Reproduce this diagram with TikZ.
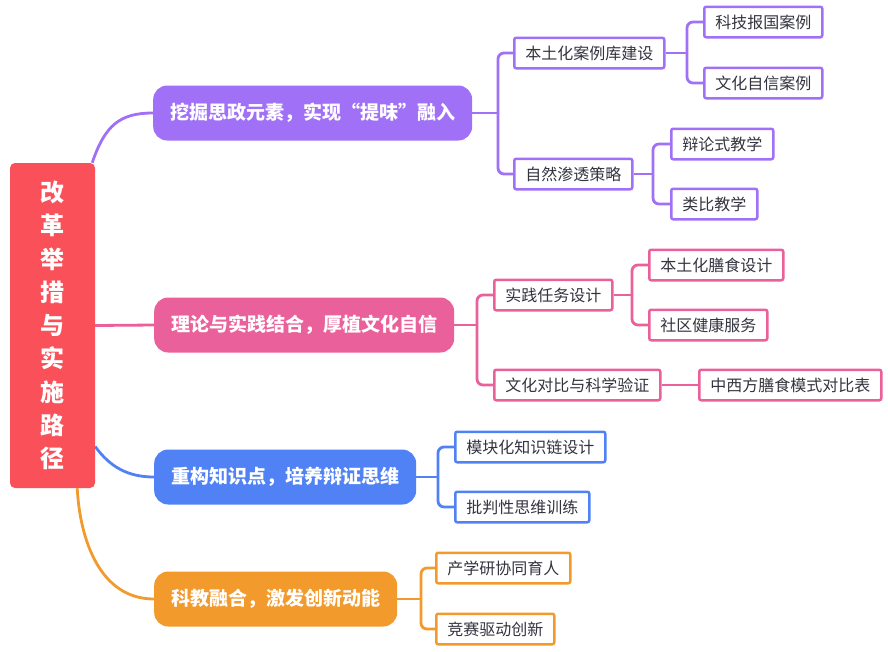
\documentclass[tikz,border=0pt]{standalone}
\usepackage{fontspec}
\setmainfont{Noto Sans CJK SC}
\usetikzlibrary{calc}
\definecolor{rootred}{HTML}{F9505A}
\definecolor{cpurple}{HTML}{A070F6}
\definecolor{cpink}{HTML}{EA609A}
\definecolor{cblue}{HTML}{5082F6}
\definecolor{corange}{HTML}{F29A2C}
\definecolor{textgray}{HTML}{343440}
\begin{document}
\begin{tikzpicture}[x=1pt,y=-1pt,
  leaf/.style={draw=#1, line width=2.5pt, fill=white, rounded corners=2pt, inner xsep=11pt, inner ysep=0pt,
    minimum height=30.5pt, font=\fontsize{16}{16}\selectfont, text=textgray, anchor=west},
  mainbox/.style={fill=#1, rounded corners=14pt, inner xsep=17pt, inner ysep=0pt, minimum height=55pt,
    text=white, font=\bfseries\fontsize{19}{19}\selectfont, anchor=west},
  link/.style={draw=#1, line width=2.8pt},
  fork/.style={draw=#1, line width=2.8pt, rounded corners=6pt}
]
\useasboundingbox (0,0) rectangle (888,651);

% root
\node[fill=rootred, rounded corners=5pt, minimum width=85pt, minimum height=325pt, inner sep=0pt,
  text=white, align=center, font=\bfseries\fontsize{24}{33.3}\selectfont] (root) at (52.5,325.5)
  {改\\革\\举\\措\\与\\实\\施\\路\\径};

% level 1
\node[mainbox=cpurple] (n1) at (153,113) {挖掘思政元素，实现“提味”融入};
\node[mainbox=cpink] (n2) at (154,325) {理论与实践结合，厚植文化自信};
\node[mainbox=cblue] (n3) at (154,477) {重构知识点，培养辩证思维};
\node[mainbox=corange] (n4) at (154,599) {科教融合，激发创新动能};

% level 2/3 purple
\node[leaf=cpurple] (a1) at (513,53) {本土化案例库建设};
\node[leaf=cpurple] (a2) at (513,174) {自然渗透策略};
\node[leaf=cpurple] (a11) at (703,22) {科技报国案例};
\node[leaf=cpurple] (a12) at (703,83) {文化自信案例};
\node[leaf=cpurple] (a21) at (670,144) {辩论式教学};
\node[leaf=cpurple] (a22) at (670,204) {类比教学};

% pink
\node[leaf=cpink] (b1) at (493,295) {实践任务设计};
\node[leaf=cpink] (b2) at (493,385) {文化对比与科学验证};
\node[leaf=cpink] (b11) at (648,265) {本土化膳食设计};
\node[leaf=cpink] (b12) at (648,325) {社区健康服务};
\node[leaf=cpink] (b21) at (698,385) {中西方膳食模式对比表};

% blue
\node[leaf=cblue] (c1) at (454,447) {模块化知识链设计};
\node[leaf=cblue] (c2) at (454,507) {批判性思维训练};

% orange
\node[leaf=corange] (d1) at (435,568) {产学研协同育人};
\node[leaf=corange] (d2) at (435,629) {竞赛驱动创新};

% root connectors
\draw[link=cpurple] ([xshift=-3pt]root.north east) .. controls (105,125) and (120,113) .. (n1.west);
\draw[link=cpink] (root.east) -- (n2.west);
\draw[link=cblue] ([yshift=-121pt]root.east) .. controls (110,467) and (128,477) .. (n3.west);
\draw[link=corange] ([xshift=-18pt]root.south east) .. controls (80,540) and (100,599) .. (n4.west);

% branch points
\coordinate (n1b) at (n1.east -| 498,0);
\coordinate (a1b) at (a1.east -| 687,0);
\coordinate (a2b) at (a2.east -| 653,0);
\coordinate (n2b) at (n2.east -| 477,0);
\coordinate (b1b) at (b1.east -| 632,0);
\coordinate (n3b) at (n3.east -| 438,0);
\coordinate (n4b) at (n4.east -| 421,0);

\draw[link=cpurple] (n1.east) -- (n1b);
\draw[fork=cpurple] (n1b) |- (a1.west);
\draw[fork=cpurple] (n1b) |- (a2.west);
\draw[link=cpurple] (a1.east) -- (a1b);
\draw[fork=cpurple] (a1b) |- (a11.west);
\draw[fork=cpurple] (a1b) |- (a12.west);
\draw[link=cpurple] (a2.east) -- (a2b);
\draw[fork=cpurple] (a2b) |- (a21.west);
\draw[fork=cpurple] (a2b) |- (a22.west);

\draw[link=cpink] (n2.east) -- (n2b);
\draw[fork=cpink] (n2b) |- (b1.west);
\draw[fork=cpink] (n2b) |- (b2.west);
\draw[link=cpink] (b1.east) -- (b1b);
\draw[fork=cpink] (b1b) |- (b11.west);
\draw[fork=cpink] (b1b) |- (b12.west);
\draw[link=cpink] (b2.east) -- (b21.west);

\draw[link=cblue] (n3.east) -- (n3b);
\draw[fork=cblue] (n3b) |- (c1.west);
\draw[fork=cblue] (n3b) |- (c2.west);

\draw[link=corange] (n4.east) -- (n4b);
\draw[fork=corange] (n4b) |- (d1.west);
\draw[fork=corange] (n4b) |- (d2.west);
\end{tikzpicture}
\end{document}
